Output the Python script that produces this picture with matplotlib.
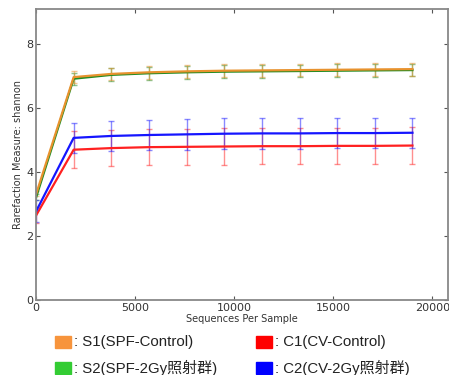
import numpy as np
import matplotlib.pyplot as plt
from matplotlib.patches import Rectangle

plt.rcParams['font.family'] = ['DejaVu Sans', 'Noto Sans CJK SC']

seqs = [10, 1900, 3800, 5700, 7600, 9500, 11400, 13300, 15200, 17100, 19000]

s1 = [3.32, 6.97, 7.07, 7.12, 7.15, 7.17, 7.18, 7.19, 7.20, 7.21, 7.22]
s1_err = [0.08, 0.19, 0.2, 0.2, 0.2, 0.2, 0.2, 0.2, 0.2, 0.2, 0.2]
s2 = [3.22, 6.92, 7.04, 7.09, 7.12, 7.14, 7.15, 7.16, 7.17, 7.18, 7.19]
s2_err = [0.08, 0.19, 0.2, 0.2, 0.2, 0.2, 0.2, 0.2, 0.2, 0.2, 0.2]
c1 = [2.65, 4.70, 4.75, 4.78, 4.79, 4.80, 4.81, 4.81, 4.82, 4.82, 4.83]
c1_err = [0.25, 0.57, 0.57, 0.57, 0.57, 0.57, 0.57, 0.57, 0.57, 0.57, 0.57]
c2 = [2.78, 5.07, 5.13, 5.16, 5.18, 5.20, 5.21, 5.21, 5.22, 5.22, 5.23]
c2_err = [0.35, 0.48, 0.48, 0.48, 0.48, 0.48, 0.48, 0.48, 0.48, 0.48, 0.47]

line_colors = ['#228b22', '#e8922e', '#ff2020', '#1515ff']
patch_colors = ['#f7943c', '#33cc33', '#ff0000', '#0000ff']
labels = [': S1(SPF-Control)', ': C1(CV-Control)',
          ': S2(SPF-2Gy照射群)', ': C2(CV-2Gy照射群)']

fig = plt.figure(figsize=(4.49, 3.75), dpi=100)
ax = fig.add_axes([0.0802, 0.2, 0.9178, 0.776])

series = [(s2, s2_err), (s1, s1_err), (c1, c1_err), (c2, c2_err)]
for (vals, err), col in zip(series, line_colors):
    ax.errorbar(seqs, vals, yerr=err, fmt='none', ecolor=col, alpha=0.5,
                elinewidth=1, capsize=2.5, capthick=1)
for (vals, err), col in zip(series, line_colors):
    ax.plot(seqs, vals, color=col, lw=1.6)

ax.set_xlim(0, 20800)
ax.set_ylim(0, 9.1)
ax.set_xticks([0, 5000, 10000, 15000, 20000])
ax.set_yticks([0, 2, 4, 6, 8])
ax.tick_params(direction='in', top=True, right=True, labelsize=8,
               labelcolor='#333333', color='#555555', length=3, pad=2)
for sp in ax.spines.values():
    sp.set_color('#888888')
    sp.set_linewidth(1.3)
ax.set_xlabel('Sequences Per Sample', fontsize=7, color='#333333', labelpad=1)
ax.set_ylabel('Rarefaction Measure: shannon', fontsize=7, color='#333333', labelpad=2)

# legend below the plot
pos = [(55, 342), (256, 342), (55, 368), (256, 368)]
order = [0, 2, 1, 3]
for (px, py), i in zip(pos, order):
    fig.patches.append(Rectangle((px / 449, 1 - (py + 6) / 375), 16 / 449, 12 / 375,
                                 transform=fig.transFigure, color=patch_colors[i]))
for (px, py), lab in zip(pos, labels):
    fig.text((px + 19) / 449, 1 - py / 375, lab, fontsize=10.8, va='center',
             family=['Liberation Sans', 'Noto Sans CJK SC'], color='#222222')

fig.savefig('out.png', dpi=100)
